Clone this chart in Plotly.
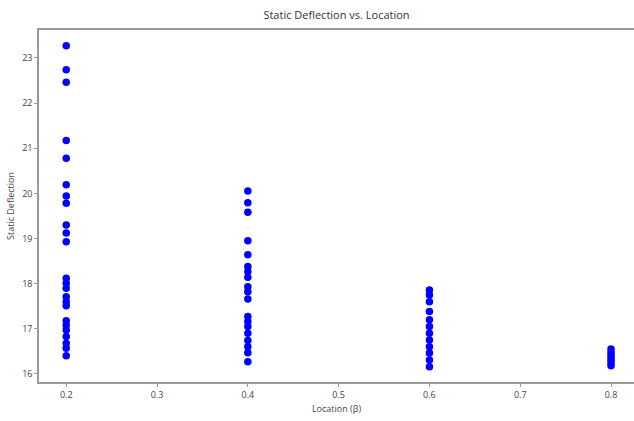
import plotly.graph_objects as go

locations = [0.2, 0.4, 0.6, 0.8]
defl_02 = [23.27, 22.74, 22.46, 21.17, 20.78, 20.19, 19.94, 19.78, 19.30, 19.12, 18.93,
           18.12, 18.01, 17.90, 17.71, 17.60, 17.51, 17.18, 17.08, 16.97, 16.83, 16.68, 16.57, 16.40]
defl_04 = [20.05, 19.79, 19.58, 18.95, 18.64, 18.38, 18.27, 18.14, 17.93, 17.82, 17.66,
           17.27, 17.16, 17.05, 16.90, 16.74, 16.60, 16.47, 16.27]
defl_06 = [17.86, 17.75, 17.60, 17.38, 17.20, 17.05, 16.90, 16.75, 16.60, 16.46, 16.31, 16.16]
defl_08 = [16.55, 16.48, 16.42, 16.36, 16.30, 16.24, 16.18]

groups = [defl_02, defl_04, defl_06, defl_08]
xs, ys = [], []
for loc, vals in zip(locations, groups):
    xs += [loc] * len(vals)
    ys += vals

x_ticks = [0.2, 0.3, 0.4, 0.5, 0.6, 0.7, 0.8]
y_ticks = [16, 17, 18, 19, 20, 21, 22, 23]

fig = go.Figure(go.Scatter(
    x=xs, y=ys, mode="markers",
    marker=dict(color="#0000ff", size=7.5, line=dict(width=0)),
))

fig.update_layout(
    width=634, height=421,
    margin=dict(l=39, r=0, t=30, b=39),
    paper_bgcolor="white", plot_bgcolor="white",
    font=dict(family="Open Sans", color="#444444", size=9),
    title=dict(text="Static Deflection vs. Location", x=0.5, xref="paper",
               y=1 - 15 / 421, yanchor="middle",
               font=dict(family="Open Sans", size=11, color="#333333")),
    showlegend=False,
)
fig.update_xaxes(
    range=[0.17, 0.8253], tickvals=x_ticks, ticktext=[str(t) for t in x_ticks],
    showgrid=False, zeroline=False, showline=True, linecolor="#999999", linewidth=1.5,
    mirror=True, ticks="outside", ticklen=3, tickcolor="#999999",
    title=dict(text="Location (β)", font=dict(size=9, color="#444444"), standoff=6),
)
fig.update_yaxes(
    range=[15.82, 23.62], tickvals=y_ticks, ticktext=[str(t) for t in y_ticks],
    showgrid=False, zeroline=False, showline=True, linecolor="#999999", linewidth=1.5,
    ticks="outside", ticklen=3, tickcolor="#999999",
    title=dict(text="Static Deflection", font=dict(size=9, color="#444444"), standoff=6),
)

fig.write_html("out.html")
